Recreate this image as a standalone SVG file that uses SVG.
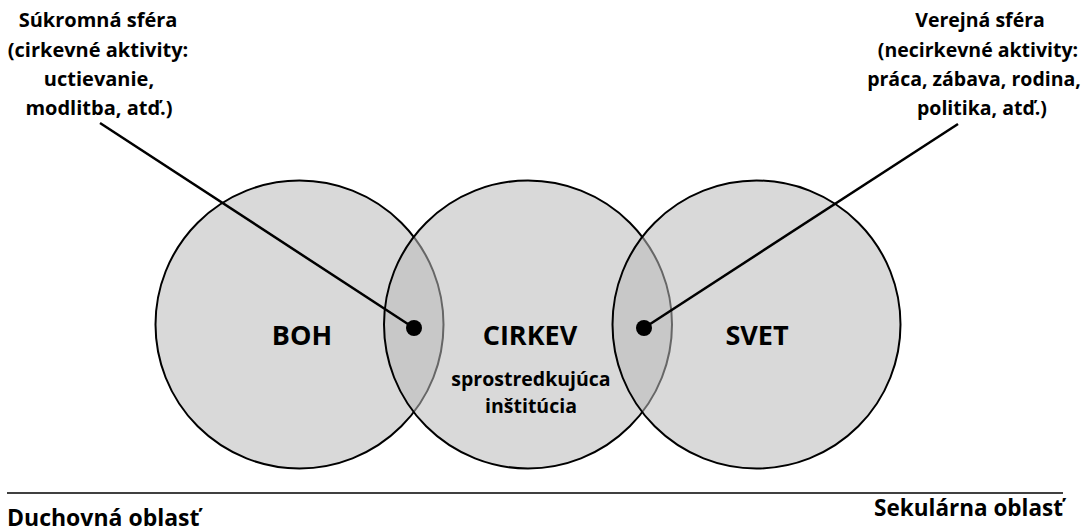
<svg xmlns="http://www.w3.org/2000/svg" width="1085" height="531" viewBox="0 0 1085 531">
<style>
text{font-family:"Open Sans",Lato,"Liberation Sans",sans-serif;font-weight:bold;fill:#000}
.lbl{font-size:20px;text-anchor:middle}
.lbr{font-size:19.5px;text-anchor:middle}
.big{font-size:27px;text-anchor:middle}
.sub{font-size:19.5px;text-anchor:middle}
.c{fill:#bababa;fill-opacity:0.55;stroke:#000;stroke-width:2}
.ln{stroke:#000;stroke-width:2.5;fill:none}
</style>
<rect width="1085" height="531" fill="#fff"/>
<g id="boh"><circle class="c" cx="299.5" cy="324.5" r="144"/><text class="big" x="302" y="345">BOH</text></g>
<g id="cirkev"><circle class="c" cx="528" cy="324.5" r="144"/><text class="big" x="530" y="345">CIRKEV</text><text class="sub" x="531" y="386">sprostredkujúca</text><text class="sub" x="531" y="413">inštitúcia</text></g>
<g id="svet"><circle class="c" cx="756.5" cy="324.5" r="144"/><text class="big" x="757" y="345">SVET</text></g>
<g id="connectors">
<line class="ln" x1="100" y1="123" x2="414" y2="328"/>
<line class="ln" x1="958" y1="124" x2="644" y2="328"/>
<circle cx="414" cy="328" r="8" fill="#000"/>
<circle cx="644" cy="328" r="8" fill="#000"/>
<line x1="7" y1="493" x2="1063" y2="493" stroke="#000" stroke-width="1.5"/>
</g>
<g id="label-private"><text class="lbl" x="98" y="27">Súkromná sféra</text><text class="lbl" x="98" y="57">(cirkevné aktivity:</text><text class="lbl" x="99" y="86">uctievanie,</text><text class="lbl" x="99" y="115">modlitba, atď.)</text></g>
<g id="label-public"><text class="lbr" x="980" y="27">Verejná sféra</text><text class="lbr" x="978" y="57">(necirkevné aktivity:</text><text class="lbr" x="974" y="86">práca, zábava, rodina,</text><text class="lbr" x="982" y="115">politika, atď.)</text></g>
<g id="label-spiritual"><text x="7" y="526" style="font-size:23px">Duchovná oblasť</text></g>
<g id="label-secular"><text x="1063" y="516" style="font-size:22.5px;text-anchor:end">Sekulárna oblasť</text></g>
</svg>
